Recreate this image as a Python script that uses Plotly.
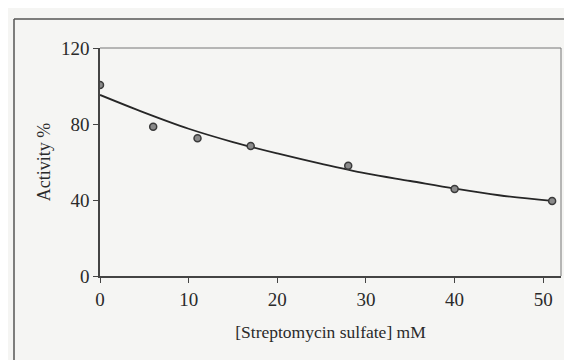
import plotly.graph_objects as go

conc = [0, 6, 11, 17, 28, 40, 51]
activity = [100.5, 78.5, 72.5, 68.4, 58, 45.8, 39.5]

fit_x = [0, 5, 10, 15, 20, 25, 30, 35, 40, 45, 51]
fit_y = [95.3, 86, 77.5, 70.5, 64.5, 59, 54, 50, 46, 42.5, 39.5]

x_ticks = [0, 10, 20, 30, 40, 50]
y_ticks = [0, 40, 80, 120]

font = dict(family="Liberation Serif, Times New Roman, serif", color="#2a2a2a")

fig = go.Figure()
fig.add_trace(go.Scatter(x=fit_x, y=fit_y, mode="lines",
                         line=dict(color="#262626", width=1.8, shape="spline"),
                         showlegend=False))
fig.add_trace(go.Scatter(x=conc, y=activity, mode="markers",
                         marker=dict(size=7, color="#8a8a8a",
                                     line=dict(color="#3a3a3a", width=1.5)),
                         showlegend=False))

fig.update_layout(
    width=572, height=360,
    margin=dict(l=92, r=19, t=40, b=92),
    paper_bgcolor="#f5f5f3", plot_bgcolor="#f5f5f3",
    font=dict(size=18, **font),
    xaxis=dict(range=[0, 52], tickvals=x_ticks, showgrid=False, zeroline=False,
               showline=True, linecolor="#444", linewidth=1.5, mirror=False,
               ticks="outside", ticklen=5, tickcolor="#444", tickwidth=1.3,
               tickfont=dict(size=19, **font),
               title=dict(text="[Streptomycin sulfate] mM", font=dict(size=17.5, **font), standoff=17)),
    yaxis=dict(range=[0, 120], tickvals=y_ticks, showgrid=False, zeroline=False,
               showline=True, linecolor="#444", linewidth=1.5,
               ticks="outside", ticklen=5, tickcolor="#444", tickwidth=1.3,
               ticksuffix="\u00a0",
               tickfont=dict(size=19, **font),
               title=dict(text="Activity %", font=dict(size=18, **font), standoff=6)),
)
# plot box top/right (thin gray)
fig.add_shape(type="line", xref="paper", yref="paper", x0=0, x1=1, y0=1, y1=1,
              line=dict(color="#777", width=1))
fig.add_shape(type="line", xref="paper", yref="paper", x0=1, x1=1, y0=0, y1=1,
              line=dict(color="#777", width=1))
# outer frame of scanned figure
fig.add_shape(type="line", xref="paper", yref="paper",
              x0=-86/461, x1=1.05, y0=(268-11)/228, y1=(268-11)/228,
              line=dict(color="#555", width=1.5))
fig.add_shape(type="line", xref="paper", yref="paper",
              x0=-86/461, x1=-86/461, y0=(268-11)/228, y1=-0.5,
              line=dict(color="#555", width=1.5))

fig.write_html("out.html")
